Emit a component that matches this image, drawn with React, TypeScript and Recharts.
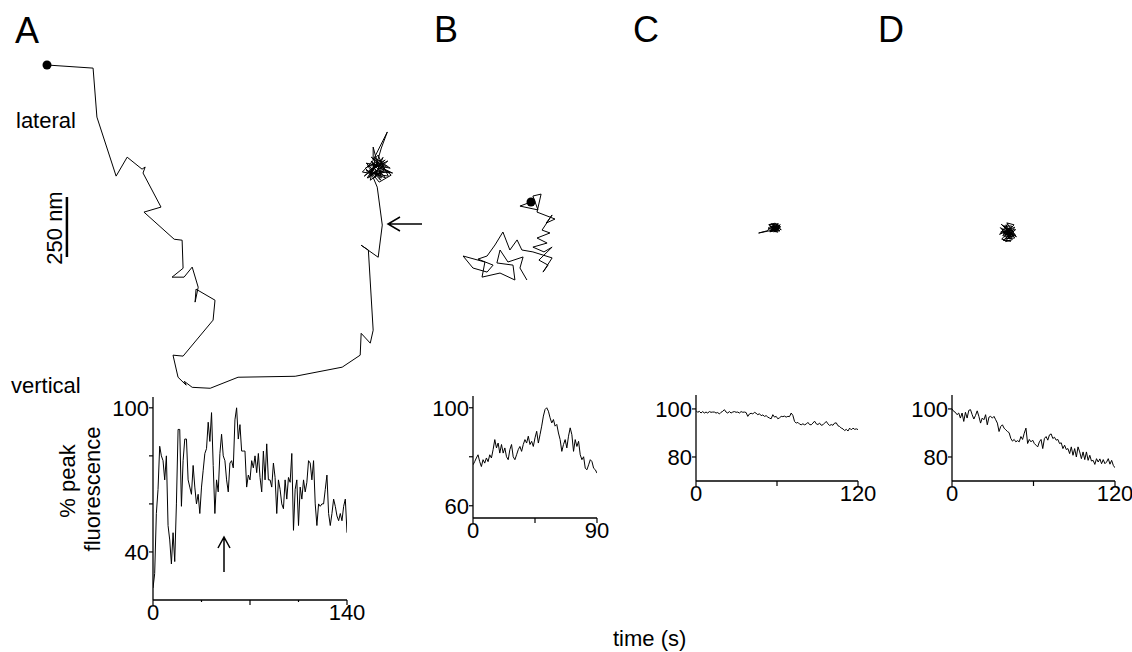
import React from 'react';
import { ScatterChart, Scatter, LineChart, Line, XAxis, YAxis, ReferenceLine } from 'recharts';

const FONT = '"Liberation Sans", Arial, sans-serif';

// particle tracks, nm from the first frame (x lateral, y vertical, down is +)
const trackA = [
  { x: 0, y: 0 }, { x: 192, y: 13 }, { x: 208, y: 217 }, { x: 288, y: 463 }, { x: 334, y: 384 },
  { x: 396, y: 434 }, { x: 409, y: 425 }, { x: 400, y: 450 }, { x: 475, y: 592 }, { x: 404, y: 613 },
  { x: 530, y: 726 }, { x: 563, y: 730 }, { x: 567, y: 847 }, { x: 521, y: 884 }, { x: 571, y: 884 },
  { x: 605, y: 842 }, { x: 630, y: 926 }, { x: 617, y: 988 }, { x: 621, y: 934 }, { x: 700, y: 980 },
  { x: 692, y: 1063 }, { x: 567, y: 1213 }, { x: 525, y: 1209 }, { x: 546, y: 1301 }, { x: 580, y: 1334 },
  { x: 572, y: 1318 }, { x: 605, y: 1343 }, { x: 680, y: 1347 }, { x: 796, y: 1301 }, { x: 1034, y: 1297 },
  { x: 1230, y: 1259 }, { x: 1305, y: 1209 }, { x: 1309, y: 1118 }, { x: 1347, y: 1159 }, { x: 1359, y: 1105 },
  { x: 1339, y: 771 }, { x: 1309, y: 751 }, { x: 1380, y: 801 }, { x: 1397, y: 667 }, { x: 1376, y: 509 },
  { x: 1355, y: 459 }, { x: 1326, y: 430 }, { x: 1389, y: 396 }, { x: 1422, y: 463 }, { x: 1314, y: 446 },
  { x: 1380, y: 375 }, { x: 1405, y: 438 }, { x: 1347, y: 480 }, { x: 1368, y: 388 }, { x: 1430, y: 430 },
  { x: 1330, y: 409 }, { x: 1393, y: 471 }, { x: 1359, y: 342 }, { x: 1359, y: 396 }, { x: 1418, y: 279 },
  { x: 1393, y: 346 }, { x: 1372, y: 417 }, { x: 1322, y: 463 }, { x: 1409, y: 396 }, { x: 1343, y: 438 },
  { x: 1384, y: 488 }, { x: 1434, y: 459 }, { x: 1351, y: 384 }, { x: 1401, y: 421 }, { x: 1334, y: 471 },
  { x: 1376, y: 405 }, { x: 1340, y: 470 }, { x: 1420, y: 400 }, { x: 1360, y: 430 }, { x: 1395, y: 455 },
  { x: 1330, y: 440 }, { x: 1410, y: 470 }, { x: 1350, y: 400 }, { x: 1385, y: 430 }, { x: 1425, y: 445 },
  { x: 1345, y: 455 }, { x: 1400, y: 385 }, { x: 1365, y: 470 }, { x: 1415, y: 420 }, { x: 1335, y: 420 },
  { x: 1390, y: 480 }, { x: 1370, y: 440 }, { x: 1440, y: 450 }, { x: 1355, y: 410 }, { x: 1380, y: 460 },
  { x: 1405, y: 405 },
];

const trackB = [
  { x: 0, y: 0 }, { x: -46, y: 17 }, { x: 29, y: 33 }, { x: 8, y: -25 }, { x: 42, y: -33 },
  { x: 25, y: 42 }, { x: 100, y: 71 }, { x: 63, y: 88 }, { x: 88, y: 54 }, { x: 46, y: 117 },
  { x: 79, y: 129 }, { x: 25, y: 150 }, { x: 67, y: 171 }, { x: 8, y: 188 }, { x: 54, y: 208 },
  { x: 88, y: 188 }, { x: 33, y: 242 }, { x: 71, y: 263 }, { x: 50, y: 292 }, { x: 88, y: 233 },
  { x: 8, y: 208 }, { x: -38, y: 200 }, { x: -58, y: 158 }, { x: -88, y: 200 }, { x: -117, y: 125 },
  { x: -150, y: 179 }, { x: -183, y: 225 }, { x: -221, y: 238 }, { x: -158, y: 263 }, { x: -183, y: 292 },
  { x: -242, y: 275 }, { x: -283, y: 225 }, { x: -192, y: 250 }, { x: -204, y: 313 }, { x: -129, y: 296 },
  { x: -67, y: 325 }, { x: -75, y: 263 }, { x: -142, y: 254 }, { x: -129, y: 200 }, { x: -96, y: 250 },
  { x: -33, y: 229 }, { x: -46, y: 275 }, { x: -17, y: 325 },
];

const trackC = [
  { x: 0, y: 0 }, { x: 10, y: -8 }, { x: -6, y: 5 }, { x: 15, y: 4 }, { x: -10, y: -6 }, { x: 4, y: 12 },
  { x: 20, y: -12 }, { x: -4, y: -15 }, { x: 12, y: 8 }, { x: -14, y: 10 }, { x: 6, y: -4 }, { x: 22, y: 2 },
  { x: -8, y: -2 }, { x: 2, y: 14 }, { x: 16, y: -16 }, { x: -12, y: 4 }, { x: 8, y: 6 }, { x: -64, y: 21 },
  { x: -30, y: 12 }, { x: 0, y: -10 }, { x: 18, y: 10 }, { x: -6, y: -12 }, { x: 10, y: 0 }, { x: 24, y: -8 },
  { x: -2, y: 8 }, { x: 14, y: -4 }, { x: -16, y: -8 }, { x: 6, y: 16 }, { x: 20, y: 6 }, { x: -4, y: 2 },
  { x: 12, y: -14 }, { x: 2, y: -2 }, { x: -20, y: -10 }, { x: 25, y: 12 }, { x: -18, y: 15 }, { x: 28, y: -5 },
  { x: -25, y: 0 }, { x: 15, y: 18 }, { x: -10, y: -18 }, { x: 30, y: 8 }, { x: 5, y: -20 }, { x: -22, y: -14 },
  { x: 18, y: -18 }, { x: -14, y: 16 }, { x: 26, y: -14 }, { x: 0, y: 18 },
];

const trackD = [
  { x: 0, y: 0 }, { x: -12, y: -20 }, { x: 10, y: 15 }, { x: -20, y: 5 }, { x: 18, y: -8 }, { x: 5, y: 25 },
  { x: -8, y: -30 }, { x: 22, y: 18 }, { x: -15, y: 20 }, { x: 12, y: -15 }, { x: -25, y: -10 }, { x: 8, y: 30 },
  { x: 25, y: 5 }, { x: -5, y: 12 }, { x: 15, y: -25 }, { x: -18, y: -25 }, { x: 3, y: -8 }, { x: 28, y: 25 },
  { x: -10, y: 28 }, { x: 20, y: -2 }, { x: -22, y: 15 }, { x: 6, y: -18 }, { x: -3, y: 5 }, { x: 14, y: 10 },
  { x: -28, y: -32 }, { x: 10, y: -5 }, { x: -12, y: 10 }, { x: 30, y: 12 }, { x: 0, y: 20 }, { x: -6, y: -12 },
  { x: 16, y: 22 }, { x: -16, y: -4 }, { x: 8, y: 2 }, { x: -30, y: 0 }, { x: 32, y: -10 }, { x: -20, y: 35 },
  { x: 12, y: 38 }, { x: -26, y: 30 }, { x: 25, y: -30 }, { x: -5, y: -38 }, { x: 35, y: 20 }, { x: -32, y: -18 },
  { x: 18, y: 32 }, { x: -10, y: 40 }, { x: 28, y: -20 }, { x: -35, y: 10 }, { x: 0, y: -35 },
];

// % peak fluorescence, evenly sampled over each record
const fluoA = [
  25, 31, 56, 66, 84, 80, 78, 70, 80, 51, 45, 35, 48, 36, 60, 91, 91, 59, 78, 87,
  87, 70, 67, 64, 76, 67, 60, 64, 56, 67, 74, 81, 83, 94, 86, 98, 76, 56, 70, 65,
  81, 89, 80, 78, 70, 65, 77, 78, 75, 95, 100, 87, 93, 82, 82, 82, 67, 72, 70, 78,
  75, 80, 73, 81, 71, 65, 82, 70, 85, 70, 70, 67, 77, 71, 56, 70, 66, 60, 58, 70,
  62, 71, 69, 81, 49, 66, 70, 51, 67, 62, 70, 65, 69, 78, 77, 70, 78, 60, 51, 60,
  59, 60, 60, 66, 72, 56, 51, 56, 62, 59, 55, 53, 56, 53, 59, 62, 48,
];
const fluoB = [
  76.7, 78, 79.5, 80.8, 78, 76, 78.8, 77.4, 79.5, 78, 80.8, 79.5, 82.9, 87, 83.6, 85.6, 81.5, 85, 81.5, 83.6,
  80, 78.8, 82.9, 85, 80, 78.8, 80.8, 82.9, 84.2, 82.2, 85, 87, 85.6, 88.4, 85, 86.3, 84.2, 87.7, 90.4, 85.6,
  89, 92.5, 96.6, 99.3, 100, 98.6, 95.9, 93.8, 95.2, 92.5, 93.2, 89.7, 87, 82.2, 85, 87, 83.6, 88.4, 91.8, 89,
  82.2, 87, 84.2, 86.3, 80.8, 78.8, 80, 75.3, 74.7, 76.7, 78.8, 78, 75.3, 74.7, 73.3,
];
const fluoC = [
  99.3, 98.6, 99, 98.3, 98.9, 98.3, 98.7, 98.3, 98.9, 98.6, 98.7, 98.7, 98.3, 98.5, 97.9, 98.6, 99, 99.7, 98.7, 98.3,
  98.9, 98.3, 98.7, 98.9, 98.6, 98.7, 98.3, 98.9, 98.6, 98.7, 98.5, 96.9, 97.9, 98.2, 97.9, 98.6, 98.2, 97.6, 98, 97.2,
  97.5, 96.9, 97.2, 96.6, 96.2, 95.9, 97.6, 96.6, 96.9, 95.9, 96.3, 96.9, 96.8, 97, 96.6, 96.9, 96.8, 98.3, 97.3, 94.8,
  94.1, 94.4, 93.7, 93.4, 93.8, 93.4, 93.7, 94.4, 93.5, 93.4, 94.1, 94.9, 93.8, 93.5, 94.1, 93.2, 93.4, 94.1, 94.8, 93.8,
  93.1, 93.5, 93.2, 94.1, 94.2, 93, 92.7, 92, 91.7, 91, 91.5, 90.8, 92, 91.3, 92, 91.5, 91.7, 91.4,
];
const fluoD = [
  100, 99, 98.6, 97.6, 98.3, 96.2, 98.3, 94.8, 98.6, 96.2, 99.4, 99.7, 97.6, 95.8, 97.3, 99.2, 96.9, 94.1, 96.2, 95.5,
  97.6, 93.4, 96.6, 96.9, 96.2, 96.9, 95.5, 94.1, 90.6, 92.7, 93.4, 92, 91.3, 90.6, 90.1, 87.7, 86.6, 87.3, 86.3, 86.8,
  86.3, 88.5, 87.3, 89.9, 92, 85.6, 87.3, 86.3, 87, 85.6, 84.9, 84.2, 86.3, 87.3, 83.5, 87.7, 88.5, 87, 89.2, 89.6,
  87.7, 88.2, 87, 87.3, 85.6, 85.9, 83.5, 84.9, 83.1, 83.5, 81.4, 84.2, 80.7, 83.5, 80, 84.2, 82.1, 79.3, 82.1, 78.9,
  82.1, 78.6, 80.7, 78.3, 78.6, 76.9, 79.3, 77.9, 79.2, 77.2, 78.9, 77.2, 77.9, 79.3, 77, 78.6, 76.5, 75.5,
];

// record lengths (s)
const durA = 140;
const durB = 90;
const durC = 120;
const durD = 120;

const AXIS_W = 60;
const TOP_PAD = 5;
const X_AXIS_H = 35;

const noMark = () => <g />;
const startDot = (p: any) => <circle cx={p.cx} cy={p.cy} r={4.5} fill="#000" />;

type TrackProps = {
  data: { x: number; y: number }[];
  left: number; top: number; width: number; height: number;
  xDomain: [number, number]; yDomain: [number, number];
  showStart?: boolean; scaleBar?: boolean;
};

const Track = ({ data, left, top, width, height, xDomain, yDomain, showStart, scaleBar }: TrackProps) => (
  <div style={{ position: 'absolute', left, top }}>
    <ScatterChart width={width} height={height} margin={{ top: 0, right: 0, bottom: 0, left: 0 }}>
      <XAxis type="number" dataKey="x" hide domain={xDomain} allowDataOverflow />
      <YAxis type="number" dataKey="y" hide reversed domain={yDomain} allowDataOverflow />
      <Scatter data={data} line={{ stroke: '#000', strokeWidth: 1 }} shape={noMark} isAnimationActive={false} />
      {showStart && <Scatter data={data.slice(0, 1)} shape={startDot} isAnimationActive={false} />}
      {/* 250 nm scale bar */}
      {scaleBar && (
        <ReferenceLine segment={[{ x: 83, y: 550 }, { x: 83, y: 800 }]} stroke="#000" strokeWidth={2.5} ifOverflow="visible" />
      )}
    </ScatterChart>
  </div>
);

const XTick = (props: any) => {
  const { x, y, payload, major, labels } = props;
  const v = payload.value;
  const len = major.includes(v) ? 5 : 2;
  return (
    <g>
      <line x1={x} x2={x} y1={y} y2={y + len} stroke="#000" strokeWidth={1.2} />
      {labels.includes(v) && (
        <text x={x} y={y + 20} textAnchor="middle" fontSize={22} fontFamily={FONT} fill="#000">{v}</text>
      )}
    </g>
  );
};

const YTick = (props: any) => {
  const { x, y, payload, labels } = props;
  const v = payload.value;
  return (
    <g>
      <line x1={x} x2={x - 4} y1={y} y2={y} stroke="#000" strokeWidth={1.2} />
      {labels.includes(v) && (
        <text x={x - 4} y={y} dy="0.36em" textAnchor="end" fontSize={22} fontFamily={FONT} fill="#000">{v}</text>
      )}
    </g>
  );
};

type TraceProps = {
  values: number[]; duration: number;
  left: number; top: number; plotW: number; plotH: number; rightPad: number;
  yDomain: [number, number]; yTicks: number[]; yLabels: number[];
  xTicks: number[]; xMajor: number[]; xLabels: number[];
};

const Trace = (p: TraceProps) => {
  const data = p.values.map((f, i) => ({ t: (i * p.duration) / (p.values.length - 1), f }));
  return (
    <div style={{ position: 'absolute', left: p.left - AXIS_W, top: p.top - TOP_PAD }}>
      <LineChart
        width={AXIS_W + p.plotW + p.rightPad}
        height={TOP_PAD + p.plotH + X_AXIS_H}
        data={data}
        margin={{ top: TOP_PAD, right: p.rightPad, bottom: 0, left: 0 }}
      >
        <XAxis
          type="number" dataKey="t" domain={[0, p.duration]} ticks={p.xTicks} interval={0}
          height={X_AXIS_H} axisLine={{ stroke: '#000', strokeWidth: 1.3 }} tickLine={false}
          tickSize={0} tickMargin={0} allowDataOverflow
          tick={(tp: any) => <XTick {...tp} major={p.xMajor} labels={p.xLabels} />}
        />
        <YAxis
          type="number" domain={p.yDomain} ticks={p.yTicks} interval={0}
          width={AXIS_W} axisLine={{ stroke: '#000', strokeWidth: 1.3 }} tickLine={false}
          tickSize={0} tickMargin={0} allowDataOverflow
          tick={(tp: any) => <YTick {...tp} labels={p.yLabels} />}
        />
        <Line type="linear" dataKey="f" stroke="#000" strokeWidth={1} dot={false} isAnimationActive={false} />
      </LineChart>
    </div>
  );
};

const txt = { fontFamily: FONT, fill: '#000' };

export default function App() {
  return (
    <div style={{ position: 'absolute', left: 0, top: 0, width: 1132, height: 652, background: '#fff', overflow: 'hidden' }}>
      {/* trajectories, all at 0.24 px per nm */}
      <Track data={trackA} left={23} top={41} width={408} height={360} xDomain={[-100, 1600]} yDomain={[-100, 1400]} showStart scaleBar />
      <Track data={trackB} left={447} top={178} width={120} height={120} xDomain={[-350, 150]} yDomain={[-100, 400]} showStart />
      <Track data={trackC} left={726} top={180} width={96} height={96} xDomain={[-200, 200]} yDomain={[-200, 200]} />
      <Track data={trackD} left={960} top={184} width={96} height={96} xDomain={[-200, 200]} yDomain={[-200, 200]} />

      {/* fluorescence traces */}
      <Trace values={fluoA} duration={durA} left={153} top={397} plotW={194} plotH={203} rightPad={30}
        yDomain={[20, 104.5]} yTicks={[40, 60, 80, 100]} yLabels={[40, 100]}
        xTicks={[0, 35, 70, 105, 140]} xMajor={[0, 70, 140]} xLabels={[0, 140]} />
      <Trace values={fluoB} duration={durB} left={473} top={396} plotW={124} plotH={122} rightPad={25}
        yDomain={[55, 104.8]} yTicks={[60, 80, 100]} yLabels={[60, 100]}
        xTicks={[0, 45, 90]} xMajor={[0, 45, 90]} xLabels={[0, 90]} />
      <Trace values={fluoC} duration={durC} left={696} top={395} plotW={162} plotH={86} rightPad={25}
        yDomain={[70, 105.8]} yTicks={[80, 100]} yLabels={[80, 100]}
        xTicks={[0, 60, 120]} xMajor={[0, 60, 120]} xLabels={[0, 120]} />
      <Trace values={fluoD} duration={durD} left={952} top={395} plotW={163} plotH={86} rightPad={17}
        yDomain={[70, 105.8]} yTicks={[80, 100]} yLabels={[80, 100]}
        xTicks={[0, 60, 120]} xMajor={[0, 60, 120]} xLabels={[0, 120]} />

      {/* labels and arrows */}
      <svg width={1132} height={652} style={{ position: 'absolute', left: 0, top: 0, pointerEvents: 'none' }}>
        <text x={15} y={43} fontSize={36} {...txt}>A</text>
        <text x={434} y={42} fontSize={36} {...txt}>B</text>
        <text x={633} y={42} fontSize={36} {...txt}>C</text>
        <text x={878} y={42} fontSize={36} {...txt}>D</text>
        <text x={16} y={128} fontSize={22} {...txt}>lateral</text>
        <text x={11} y={393} fontSize={22} {...txt}>vertical</text>
        <text transform="translate(62,228) rotate(-90)" textAnchor="middle" fontSize={22} {...txt}>250 nm</text>
        <text transform="translate(75,481) rotate(-90)" textAnchor="middle" fontSize={22} {...txt}>% peak</text>
        <text transform="translate(100,489) rotate(-90)" textAnchor="middle" fontSize={22} {...txt}>fluorescence</text>
        <text x={613} y={646} fontSize={22} {...txt}>time (s)</text>
        <g stroke="#000" strokeWidth={1.5} fill="none">
          <path d="M388,224 L422,224 M400,217 L388,224 L400,231" />
          <path d="M224,572 L224,537 M218,548 L224,537 L230,548" />
        </g>
      </svg>
    </div>
  );
}
